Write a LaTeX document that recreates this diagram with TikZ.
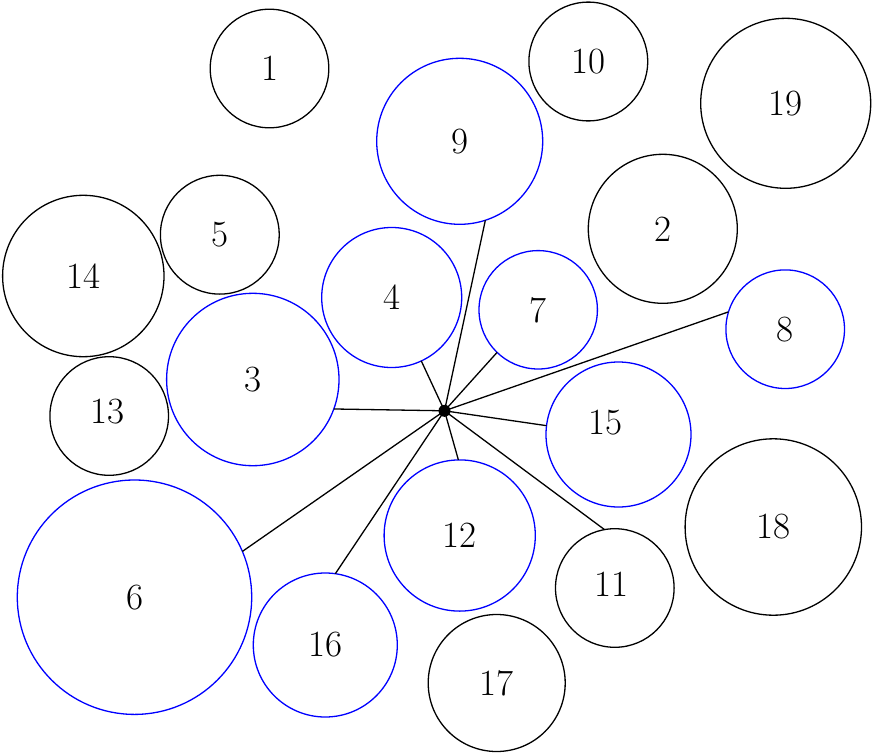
\documentclass[tikz,border=0pt]{standalone}
\begin{document}
\begin{tikzpicture}[x=1pt,y=-1pt,line width=1.3pt,
  font=\fontsize{37}{44}\selectfont,
  blk/.style={draw=black,circle,inner sep=0pt,outer sep=0pt},
  blu/.style={draw=blue,circle,inner sep=0pt,outer sep=0pt},
  spoke/.style={draw=black,line width=1.3pt},
  hubdot/.style={circle,fill=black,inner sep=0pt,minimum size=12pt}]
\useasboundingbox (0,0) rectangle (873,755);
\node[blk,minimum size=118.6pt] (c1)  at (269.5,68.5)  {1};
\node[blk,minimum size=149pt]   (c2)  at (662.8,228.8) {2};
\node[blu,minimum size=172.4pt] (c3)  at (252.8,379.5) {3};
\node[blu,minimum size=140pt]   (c4)  at (391.7,297.5) {4};
\node[blk,minimum size=118.8pt] (c5)  at (219.8,234.7) {5};
\node[blu,minimum size=234.4pt] (c6)  at (134.5,597.2) {6};
\node[blu,minimum size=118.4pt] (c7)  at (538.2,309.8) {7};
\node[blu,minimum size=118.6pt] (c8)  at (785.2,329.2) {8};
\node[blu,minimum size=166pt]   (c9)  at (459.7,141.3) {9};
\node[blk,minimum size=118.8pt] (c10) at (588.3,61.5)  {10};
\node[blk,minimum size=118.6pt,label={[xshift=-3.6pt,yshift=3.3pt]center:11}] (c11) at (614.8,588) {};
\node[blu,minimum size=151.2pt] (c12) at (459.7,535.5) {12};
\node[blk,minimum size=118.6pt,label={[xshift=-1.7pt,yshift=4.8pt]center:13}] (c13) at (109.2,416) {};
\node[blk,minimum size=161.4pt] (c14) at (83.3,276)    {14};
\node[blu,minimum size=145pt,label={[xshift=-13.5pt,yshift=11.5pt]center:15}] (c15) at (618.5,434.5) {};
\node[blu,minimum size=144pt]   (c16) at (325.3,645)   {16};
\node[blk,minimum size=137pt]   (c17) at (496.7,683)   {17};
\node[blk,minimum size=176.4pt] (c18) at (773.3,527)   {18};
\node[blk,minimum size=170pt]   (c19) at (785.7,103.3) {19};
\node[hubdot] (hub) at (444.5,410.8) {};
\draw[spoke] (hub.center) -- (c9.-72.3);
\draw[spoke] (hub.center) -- (c4.-65.7);
\draw[spoke] (hub.center) -- (c7.226.4);
\draw[spoke] (hub.center) -- (c8.163.7);
\draw[spoke] (hub.center) -- (c3.-20.75);
\draw[spoke] (hub.center) -- (c15.173.9);
\draw[spoke] (hub.center) -- (c12.91.1);
\draw[spoke] (hub.center) -- (c11.100.4);
\draw[spoke] (hub.center) -- (c6.23.45);
\draw[spoke] (hub.center) -- (c16.82.8);
\end{tikzpicture}
\end{document}
